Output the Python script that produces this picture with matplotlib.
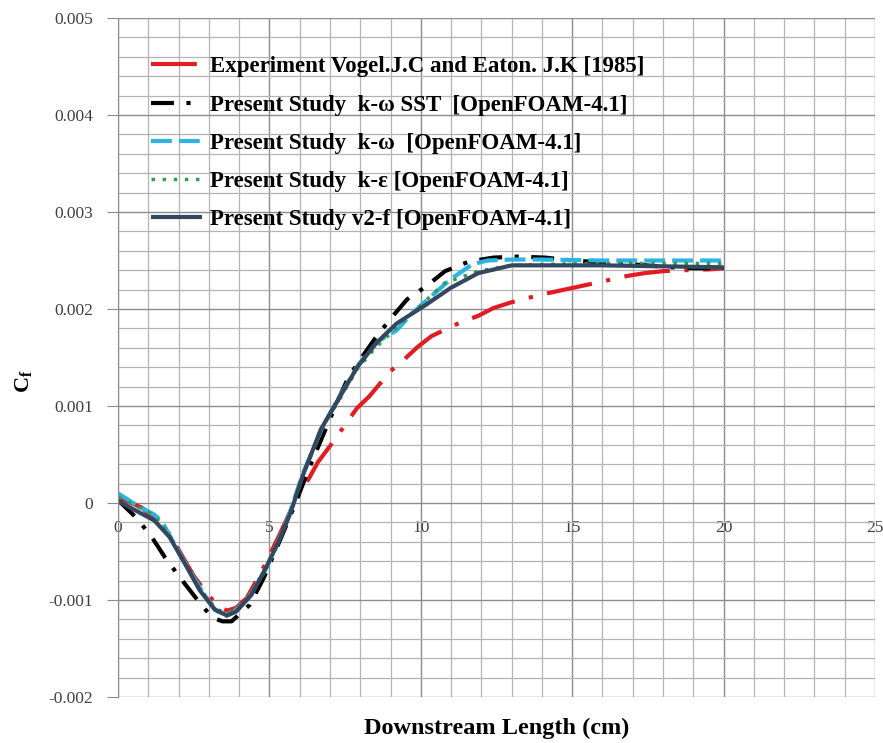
import numpy as np
import matplotlib
matplotlib.use('Agg')
from matplotlib import pyplot as plt
from matplotlib.ticker import MultipleLocator, FixedLocator, FixedFormatter

plt.rcParams['font.family'] = ['Liberation Serif', 'DejaVu Serif']
plt.rcParams['mathtext.fontset'] = 'custom'
plt.rcParams['mathtext.rm'] = 'Liberation Serif'
plt.rcParams['mathtext.bf'] = 'Liberation Serif:bold'

# skin friction coefficient (values in units of 1e-3) along the downstream length (cm)
exp_x = [0, 0.8, 1.7, 2.5, 2.9, 3.3, 3.6, 3.9, 4.25, 4.75, 5.3, 5.95, 6.3, 6.6, 7.2, 7.55,
         7.9, 8.3, 9.0, 9.45, 9.9, 10.35, 11.3, 11.9, 12.4, 13.0, 14.0, 14.6, 15.2, 15.8,
         16.8, 17.4, 18.0, 18.7, 19.6, 20.0]
exp_cf = [0.06, -0.05, -0.32, -0.75, -0.92, -1.06, -1.11, -1.08, -0.98, -0.70, -0.35, 0.09,
          0.25, 0.42, 0.67, 0.83, 0.98, 1.10, 1.36, 1.48, 1.61, 1.72, 1.86, 1.93, 2.01, 2.07,
          2.15, 2.19, 2.23, 2.27, 2.34, 2.37, 2.39, 2.40, 2.41, 2.42]

sst_x = [0, 0.5, 1.05, 1.55, 2.05, 2.55, 3.1, 3.45, 3.75, 4.35, 4.8, 5.3, 5.8, 6.3, 6.8,
         7.25, 7.6, 8.0, 8.5, 9.0, 9.55, 10.2, 10.8, 11.6, 12.4, 13.2, 14.1, 15.0, 16.0,
         17.0, 18.3, 19.0, 20.0]
sst_cf = [0.03, -0.12, -0.32, -0.56, -0.77, -0.97, -1.18, -1.22, -1.22, -1.05, -0.78, -0.42,
          -0.05, 0.35, 0.72, 1.05, 1.29, 1.48, 1.70, 1.90, 2.10, 2.24, 2.39, 2.49, 2.53, 2.54,
          2.53, 2.50, 2.48, 2.46, 2.43, 2.42, 2.42]

kw_x = [0, 0.6, 1.2, 1.45, 2.05, 2.7, 3.15, 3.5, 3.8, 4.35, 4.9, 5.25, 5.65, 6.1, 6.75, 7.3,
        7.95, 8.6, 9.2, 9.7, 10.3, 11.0, 11.7, 12.2, 13, 14, 16, 18, 20]
kw_cf = [0.10, -0.02, -0.12, -0.19, -0.53, -0.87, -1.08, -1.17, -1.13, -0.96, -0.67, -0.43,
         -0.12, 0.30, 0.78, 1.09, 1.43, 1.67, 1.78, 1.95, 2.12, 2.31, 2.46, 2.50, 2.51, 2.51,
         2.50, 2.50, 2.50]

ke_x = [0, 0.6, 1.2, 1.6, 2.1, 2.7, 3.2, 3.55, 3.9, 4.4, 4.9, 5.3, 5.7, 6.1, 6.7, 7.3, 7.9,
        8.5, 9.1, 9.9, 10.8, 11.9, 13, 14, 16, 18, 20]
ke_cf = [0.06, -0.03, -0.13, -0.28, -0.55, -0.88, -1.08, -1.14, -1.10, -0.93, -0.65, -0.40,
         -0.10, 0.28, 0.75, 1.06, 1.38, 1.60, 1.78, 2.01, 2.27, 2.39, 2.45, 2.46, 2.47, 2.47,
         2.47]

v2f_x = [0, 0.6, 1.2, 1.7, 2.2, 2.7, 3.2, 3.6, 3.9, 4.4, 4.9, 5.3, 5.7, 6.1, 6.7, 7.3, 7.9,
         8.5, 9.2, 10.2, 11.0, 11.9, 13, 14, 16, 18, 20]
v2f_cf = [0.02, -0.08, -0.18, -0.35, -0.62, -0.90, -1.10, -1.16, -1.12, -0.95, -0.66, -0.40,
          -0.10, 0.28, 0.76, 1.08, 1.40, 1.64, 1.85, 2.05, 2.22, 2.37, 2.45, 2.45, 2.45, 2.44,
          2.43]

labels = ['Experiment Vogel.J.C and Eaton. J.K [1985]',
          'Present Study  k-ω SST  [OpenFOAM-4.1]',
          'Present Study  k-ω  [OpenFOAM-4.1]',
          'Present Study  k-ε [OpenFOAM-4.1]',
          'Present Study v2-f [OpenFOAM-4.1]']

y_ticks = [-0.002, -0.001, 0, 0.001, 0.002, 0.003, 0.004, 0.005]
y_ticklabels = ['-0.002', '-0.001', '0', '0.001', '0.002', '0.003', '0.004', '0.005']
x_ticks = [0, 5, 10, 15, 20, 25]

fig = plt.figure(figsize=(8.83, 7.43), dpi=100)
ax = fig.add_axes([118 / 883, 1 - 697 / 743, 757 / 883, 679 / 743])

series = [
    (exp_x, exp_cf, dict(color='#e31b23', lw=3, dashes=(11, 3.5, 1, 3.5))),
    (sst_x, sst_cf, dict(color='#000000', lw=3, dashes=(5.5, 3, 1, 3))),
    (kw_x, kw_cf, dict(color='#2bb3e2', lw=3, dashes=(5, 1.7))),
    (ke_x, ke_cf, dict(color='#2f9e52', lw=2.5, dashes=(1, 2.2))),
    (v2f_x, v2f_cf, dict(color='#33475f', lw=3)),
]
for (xs, cf, style), lab in zip(series, labels):
    ax.plot(xs, np.array(cf) * 1e-3, label=lab, solid_capstyle='butt',
            dash_capstyle='butt', **style)

ax.set_xlim(0, 25)
ax.set_ylim(-0.002, 0.005)
ax.xaxis.set_major_locator(FixedLocator(x_ticks))
ax.xaxis.set_minor_locator(MultipleLocator(1))
ax.yaxis.set_major_locator(FixedLocator(y_ticks))
ax.yaxis.set_major_formatter(FixedFormatter(y_ticklabels))
ax.yaxis.set_minor_locator(MultipleLocator(0.0002))

ax.grid(which='major', color='#8c8c8c', lw=1)
ax.grid(which='minor', color='#b4b4b4', lw=0.9)
ax.set_axisbelow(True)

for side in ['top', 'right']:
    ax.spines[side].set_visible(False)
ax.spines['left'].set_color('#8c8c8c')
ax.spines['bottom'].set_position(('data', 0))
ax.spines['bottom'].set_visible(False)

ax.tick_params(axis='y', which='major', length=8, color='#8c8c8c', labelsize=12.5,
               labelcolor='#404040', pad=10)
ax.tick_params(axis='y', which='minor', length=0)
ax.tick_params(axis='x', which='both', length=0, labelsize=12.5, labelcolor='#404040',
               pad=12)

fig.text(497 / 883, 1 - 728 / 743, 'Downstream Length (cm)', fontsize=17.5,
         fontweight='bold', ha='center', va='center')
fig.text(24 / 883, 1 - 381 / 743, r'$\mathbf{C}_\mathbf{f}$', fontsize=16,
         rotation=90, ha='center', va='center')

leg = ax.legend(loc='upper left', bbox_to_anchor=(0.032, 0.957), frameon=False,
                prop=dict(size=16.5, weight='bold'), handlelength=2.2, handletextpad=0.35,
                labelspacing=0.75, borderaxespad=0)

fig.savefig('out.png', dpi=100)
